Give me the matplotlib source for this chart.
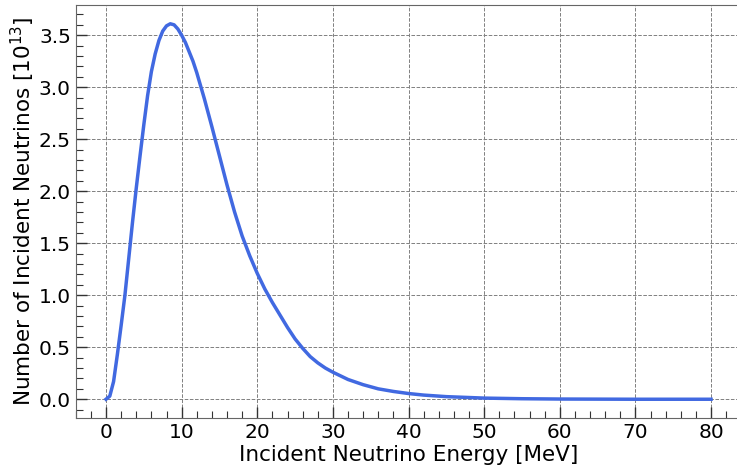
import matplotlib
matplotlib.use('Agg')
import matplotlib.pyplot as plt
from matplotlib.ticker import MultipleLocator

# values (energy in MeV, counts in 1e13)
energy = [0, 0.5, 1, 1.5, 2, 2.5, 3, 3.5, 4, 4.5, 5, 5.5, 6, 6.5, 7, 7.5, 8,
          8.5, 9, 9.5, 10, 10.5, 11, 11.5, 12, 13, 14, 15, 16, 17, 18, 19,
          20, 21, 22, 23, 24, 25, 26, 27, 28, 29, 30, 32, 34, 36, 38, 40,
          42, 45, 50, 55, 60, 65, 70, 75, 80]
counts = [0.0, 0.03, 0.17, 0.43, 0.71, 1.0, 1.35, 1.70, 2.03, 2.34, 2.64,
          2.92, 3.15, 3.32, 3.45, 3.54, 3.59, 3.61, 3.60, 3.56, 3.50, 3.43,
          3.34, 3.25, 3.14, 2.89, 2.62, 2.34, 2.06, 1.80, 1.57, 1.38, 1.21,
          1.06, 0.93, 0.81, 0.69, 0.58, 0.49, 0.41, 0.35, 0.30, 0.26, 0.19,
          0.14, 0.10, 0.075, 0.055, 0.04, 0.025, 0.011, 0.005, 0.002, 0.001,
          0.0, 0.0, 0.0]

fig = plt.figure(figsize=(7.37, 4.68), dpi=100)
ax = fig.add_axes([0.1028, 0.1068, 0.903, 0.8825])

ax.plot(energy, counts, color='royalblue', linewidth=2.5)

ax.set_xlabel('Incident Neutrino Energy [MeV]', fontsize=15.5, labelpad=2)
ax.set_ylabel('Number of Incident Neutrinos [$10^{13}$]', fontsize=15.5,
              labelpad=1)

ax.xaxis.set_major_locator(MultipleLocator(10))
ax.xaxis.set_minor_locator(MultipleLocator(2))
ax.yaxis.set_major_locator(MultipleLocator(0.5))
ax.yaxis.set_minor_locator(MultipleLocator(0.1))
ax.tick_params(which='both', direction='in', color='#333333', labelsize=14.5)
ax.tick_params(which='major', length=8, width=1)
ax.tick_params(which='minor', length=5, width=0.8)

ax.grid(True, which='major', linestyle='--', color='gray', linewidth=0.7)
for s in ax.spines.values():
    s.set_color('#666666')

fig.savefig('out.png', dpi=100)
